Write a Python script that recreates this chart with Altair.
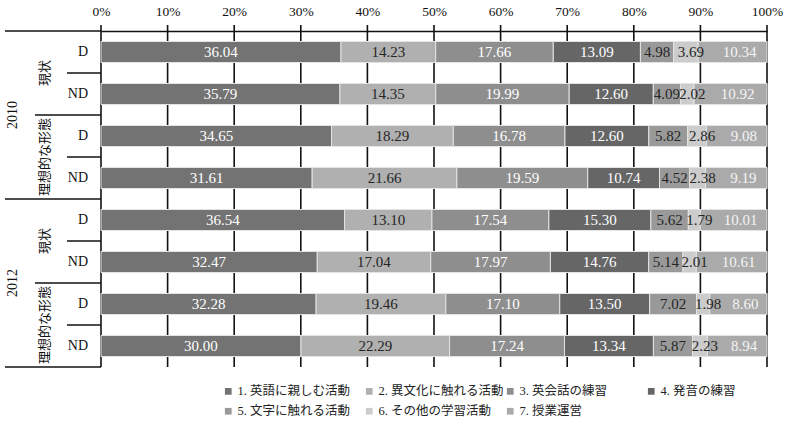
import altair as alt
import pandas as pd

# ---------------- data ----------------
years = ["2010", "2012"]
cats = ["現状", "理想的な形態"]
groups = ["D", "ND"]
activities = [
    "1. 英語に親しむ活動",
    "2. 異文化に触れる活動",
    "3. 英会話の練習",
    "4. 発音の練習",
    "5. 文字に触れる活動",
    "6. その他の学習活動",
    "7. 授業運営",
]
act1 = [36.04, 35.79, 34.65, 31.61, 36.54, 32.47, 32.28, 30.00]
act2 = [14.23, 14.35, 18.29, 21.66, 13.10, 17.04, 19.46, 22.29]
act3 = [17.66, 19.99, 16.78, 19.59, 17.54, 17.97, 17.10, 17.24]
act4 = [13.09, 12.60, 12.60, 10.74, 15.30, 14.76, 13.50, 13.34]
act5 = [4.98, 4.09, 5.82, 4.52, 5.62, 5.14, 7.02, 5.87]
act6 = [3.69, 2.02, 2.86, 2.38, 1.79, 2.01, 1.98, 2.23]
act7 = [10.34, 10.92, 9.08, 9.19, 10.01, 10.61, 8.60, 8.94]
tick_values = [0, 0.1, 0.2, 0.3, 0.4, 0.5, 0.6, 0.7, 0.8, 0.9, 1.0]

bar_colors = ["#737373", "#b0b0b0", "#8e8e8e", "#666666", "#999999", "#cccccc", "#aaaaaa"]
FONT = "'Liberation Serif', 'Noto Sans CJK JP', serif"
LINE = "#111111"

series = [act1, act2, act3, act4, act5, act6, act7]
recs = []
for k, s in enumerate(series):
    for r, v in enumerate(s):
        recs.append({"row": r, "act": activities[k], "order": k, "value": v})
df = pd.DataFrame(recs)

row_labels = []
for y in range(len(years)):
    for c in range(len(cats)):
        for g in range(len(groups)):
            r = y * 4 + c * 2 + g
            row_labels.append({"pos": r + 0.5, "text": groups[g]})
row_df = pd.DataFrame(row_labels)
cat_df = pd.DataFrame([{"pos": 2 * i + 1, "text": cats[i % 2]} for i in range(4)])
year_df = pd.DataFrame([{"pos": 4 * j + 2, "text": years[j]} for j in range(2)])
tick_df = pd.DataFrame({"v": tick_values})

sep_row = pd.DataFrame({"pos": [1, 3, 5, 7]})
sep_cat = pd.DataFrame({"pos": [2, 6]})
sep_year = pd.DataFrame({"pos": [0, 4, 8]})

x_scale = alt.Scale(domain=[0, 1], nice=False, zero=False)
y_scale = alt.Scale(domain=[0, 8], reverse=True, nice=False, zero=False)

grid = (
    alt.Chart(tick_df)
    .transform_calculate(ya="0", yb="8")
    .mark_rule(color=LINE, strokeWidth=1.6)
    .encode(
        x=alt.X("v:Q", scale=x_scale, axis=alt.Axis(orient="top", values=tick_values, format=".0%", title=None,
                grid=False, ticks=False, domainColor=LINE, domainWidth=1.5, labelFont=FONT,
                labelFontSize=13.5, labelColor="#111111", labelPadding=13, labelFlush=False)),
        y=alt.Y("ya:Q", scale=y_scale, axis=None),
        y2="yb:Q",
    )
)
ticks = (
    alt.Chart(tick_df)
    .mark_rule(color=LINE, strokeWidth=1.6)
    .encode(x=alt.X("v:Q", scale=x_scale, title=None), y=alt.value(-6), y2=alt.value(0))
)

base = (
    alt.Chart(df)
    .transform_stack(stack="value", groupby=["row"], as_=["x0", "x1"], offset="normalize",
                     sort=[alt.SortField("order", order="ascending")])
    .transform_calculate(y0="datum.row + 0.25", y1="datum.row + 0.75", yc="datum.row + 0.5",
                         mid="(datum.x0 + datum.x1) / 2")
)

bars = base.mark_bar(stroke="#e4e4e4", strokeWidth=1).encode(
    x=alt.X("x0:Q", scale=x_scale, title=None),
    x2="x1:Q",
    y=alt.Y("y0:Q", scale=y_scale, axis=None),
    y2="y1:Q",
    color=alt.Color("act:N", scale=alt.Scale(domain=activities, range=bar_colors),
                    legend=alt.Legend(title=None, orient="none", legendX=121, legendY=354,
                                      direction="horizontal", columns=4, gridAlign="all",
                                      symbolType="square", symbolSize=45, symbolStrokeWidth=0,
                                      labelFont=FONT, labelFontSize=12.5, labelColor="#222222",
                                      labelOffset=3, labelLimit=300, columnPadding=0, rowPadding=7)),
)


def value_text(flt, dx, color):
    return (
        base.transform_filter(flt)
        .mark_text(font=FONT, fontSize=15, dx=dx, color=color)
        .encode(x=alt.X("mid:Q", scale=x_scale, title=None),
                y=alt.Y("yc:Q", scale=y_scale, axis=None),
                text=alt.Text("value:Q", format=".2f"))
    )


text_light = value_text("datum.order == 0 || datum.order == 2 || datum.order == 3", 0, "#ffffff")
text_seven = value_text("datum.order == 6", 7, "#f4f4f4")
text_dark = value_text("datum.order == 1 || datum.order == 4", 0, "#262626")
text_six = value_text("datum.order == 5", 5, "#262626")

row_text = alt.Chart(row_df).mark_text(font=FONT, fontSize=14, align="right", color="#111111").encode(
    x=alt.value(-13), y=alt.Y("pos:Q", scale=y_scale, axis=None), text="text:N")
cat_text = alt.Chart(cat_df).mark_text(font=FONT, fontSize=13, angle=270, color="#111111").encode(
    x=alt.value(-56), y=alt.Y("pos:Q", scale=y_scale, axis=None), text="text:N")
year_text = alt.Chart(year_df).mark_text(font=FONT, fontSize=14, angle=270, color="#111111").encode(
    x=alt.value(-88), y=alt.Y("pos:Q", scale=y_scale, axis=None), text="text:N")

rule_row = alt.Chart(sep_row).mark_rule(color=LINE, strokeWidth=1.5).encode(
    x=alt.value(-34), x2=alt.value(0), y=alt.Y("pos:Q", scale=y_scale, axis=None))
rule_cat = alt.Chart(sep_cat).mark_rule(color=LINE, strokeWidth=1.5).encode(
    x=alt.value(-66), x2=alt.value(0), y=alt.Y("pos:Q", scale=y_scale, axis=None))
rule_year = alt.Chart(sep_year).mark_rule(color=LINE, strokeWidth=1.5).encode(
    x=alt.value(-96), x2=alt.value(0), y=alt.Y("pos:Q", scale=y_scale, axis=None))

chart = (
    alt.layer(grid, bars, ticks, text_light, text_seven, text_dark, text_six,
              row_text, cat_text, year_text, rule_row, rule_cat, rule_year)
    .properties(width=666, height=336, autosize=alt.AutoSizeParams(type="none"),
                padding={"left": 101, "top": 31, "right": 21, "bottom": 58})
    .configure_view(strokeWidth=0)
)

chart.save("out.html", embed_options={"renderer": "svg", "actions": False})

# ---- diagnostic: show console messages and rule-mark info on the page ----
diag = """
<div id="diag" style="position:absolute;left:0;top:0;font:10px monospace;color:#c00;background:rgba(255,255,230,0.9);max-width:788px;z-index:10;white-space:pre-wrap"></div>
<script>
(function(){
  function put(t){var d=document.getElementById('diag'); if(d){d.textContent += t + "\\n";}}
  ['warn','error','log'].forEach(function(k){var o=console[k]; console[k]=function(){try{put(k+': '+Array.prototype.map.call(arguments,function(a){return (a&&a.message)?a.message:String(a);}).join(' '));}catch(e){} o.apply(console,arguments);};});
  window.addEventListener('error',function(e){put('ERR '+e.message);});
  setTimeout(function(){
    var gs=document.querySelectorAll('g.mark-rule');
    put('rule groups: '+gs.length);
    gs.forEach(function(g){var c=g.children; var first=c.length?c[0].outerHTML.slice(0,150):''; put((g.getAttribute('class')||'')+' n='+c.length+' '+first);});
  }, 2500);
})();
</script>
"""
html = open("out.html", encoding="utf-8").read()
html = html.replace("<body>", "<body>" + diag, 1)
open("out.html", "w", encoding="utf-8").write(html)
